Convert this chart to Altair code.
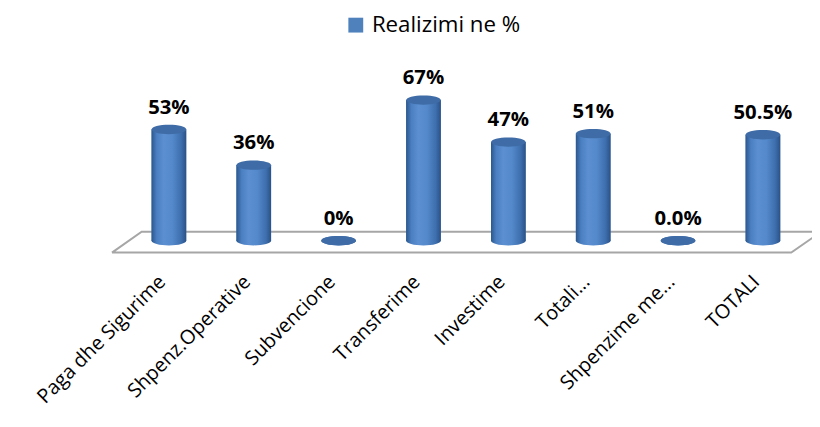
import altair as alt
import pandas as pd

categories = ["Paga dhe Sigurime", "Shpenz.Operative", "Subvencione", "Transferime",
              "Investime", "Totali...", "Shpenzime me...", "TOTALI"]
values = [53, 36, 0, 67, 47, 51, 0, 50.5]
value_labels = ["53%", "36%", "0%", "67%", "47%", "51%", "0.0%", "50.5%"]
series_name = "Realizimi ne %"

# 3-D floor outline (data units: category index, percent)
floor_x = [-0.671, -0.321, 7.684, 7.334, -0.671]
floor_y = [-5.66, 4.25, 4.25, -5.66, -5.66]

df = pd.DataFrame({
    "idx": list(range(len(categories))),
    "category": categories,
    "value": values,
    "label": value_labels,
    "series": [series_name] * len(categories),
})
floor = pd.DataFrame({"fx": floor_x, "fy": floor_y, "ord": list(range(len(floor_x)))})

FONT = "Open Sans"
xs = alt.Scale(domain=[-1.896, 7.485], nice=False, zero=False, padding=0)
ys = alt.Scale(domain=[-9.906, 109.91], nice=False, zero=False, padding=0)

label_expr = "[" + ",".join("'" + c + "'" for c in categories) + "][datum.value]"

x_axis = alt.Axis(values=list(range(len(categories))), labelExpr=label_expr,
                  labelAngle=-45, labelAlign="right", labelBaseline="middle",
                  labelFontSize=20, labelFont=FONT, labelColor="#000000",
                  labelPadding=17, labelOffset=-7, labelLimit=500,
                  domain=False, ticks=False, grid=False,
                  title=None, labelOverlap=False, labelBound=False, labelFlush=False)


def X(field):
    return alt.X(field, scale=xs, axis=x_axis, title=None)


def Y(field):
    return alt.Y(field, scale=ys, axis=None, title=None)


body_grad = alt.LinearGradient(
    gradient="linear", x1=0, x2=1, y1=0, y2=0,
    stops=[alt.GradientStop(color="#2c578c", offset=0.0),
           alt.GradientStop(color="#4a7fc2", offset=0.15),
           alt.GradientStop(color="#5b8fd2", offset=0.35),
           alt.GradientStop(color="#5489cb", offset=0.6),
           alt.GradientStop(color="#3e6fae", offset=0.85),
           alt.GradientStop(color="#2b5287", offset=1.0)])

ellipse = "M -1 0 A 1 0.27 0 1 1 1 0 A 1 0.27 0 1 1 -1 0 Z"
BAR_W = 35

floor_layer = alt.Chart(floor).mark_line(color="#a6a6a6", strokeWidth=2).encode(
    x=X("fx:Q"),
    y=Y("fy:Q"),
    order="ord:Q",
)

legend_layer = alt.Chart(df).mark_bar(width=BAR_W, orient="vertical").encode(
    x=X("idx:Q"),
    y=Y("value:Q"),
    y2=alt.datum(0),
    color=alt.Color("series:N", scale=alt.Scale(range=["#4f81bd"]),
                    legend=alt.Legend(orient="none", legendX=340, legendY=4,
                                      title=None, symbolType="square",
                                      symbolSize=225, symbolStrokeWidth=0,
                                      labelFontSize=22.5, labelFont=FONT,
                                      labelColor="#000000", labelOffset=5,
                                      padding=0)),
)

bottom_ell = alt.Chart(df).mark_point(shape=ellipse, size=BAR_W * BAR_W, filled=True,
                                      color=body_grad, opacity=1, strokeWidth=0).encode(
    x=X("idx:Q"),
    y=Y("zero:Q"),
).transform_calculate(zero="0")

body = alt.Chart(df).mark_bar(width=BAR_W, orient="vertical", color=body_grad).encode(
    x=X("idx:Q"),
    y=Y("value:Q"),
    y2=alt.datum(0),
)

top_ell = alt.Chart(df).mark_point(shape=ellipse, size=BAR_W * BAR_W, filled=True,
                                   color="#3f6ca6", opacity=1, strokeWidth=0).encode(
    x=X("idx:Q"),
    y=Y("value:Q"),
)

text = alt.Chart(df).mark_text(fontSize=20.5, fontWeight="bold", font=FONT,
                               color="#000000", dy=-22, baseline="middle").encode(
    x=X("idx:Q"),
    y=Y("value:Q"),
    text="label:N",
)

chart = alt.layer(floor_layer, legend_layer, bottom_ell, body, top_ell, text).properties(
    width=804, height=254, autosize="none",
    padding={"left": 0, "top": 0, "right": 8, "bottom": 157},
    background="#ffffff",
).configure_view(stroke=None)

chart.save("out.html", embed_options={"renderer": "svg", "actions": False})
